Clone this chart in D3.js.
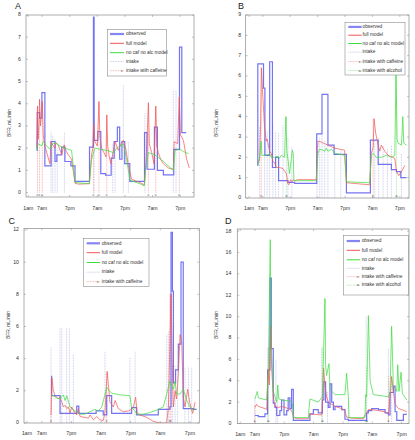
<!DOCTYPE html>
<html><head><meta charset="utf-8">
<script src="https://cdn.jsdelivr.net/npm/d3@7/dist/d3.min.js"></script>
<style>
body{margin:0;background:#fff;}
svg{display:block;font-family:"Liberation Sans",Arial,sans-serif;}
</style></head><body>
<svg id="c" width="415" height="440"></svg>
<script>
// ---------- shared ----------
const tickHours  = [1, 7, 19, 31, 43, 55, 67];
const tickLabels = ["1am", "7am", "7pm", "7am", "7pm", "7am", "7pm"];
const legendNames = ["observed", "full model", "no caf no alc model", "intake", "intake with caffeine", "intake with alcohol"];
const yTicksA = [0,1,2,3,4,5,6,7,8];
const yTicksB = [0,1,2,3,4,5,6,7,8,9];
const yTicksC = [0,2,4,6,8,10,12];
const yTicksD = [0,2,4,6,8,10,12,14,16,18];

// ---------- Panel A  ([hour, BFR]) ----------
const obsA = [[4.7,1.9],[4.9,3.6],[5.9,3.35],[6.9,4.5],[8.2,1.2],[10.9,2.3],[12.6,1.4],[13.4,1.7],[15.5,2.05],[16.9,1.4],[19.5,1.2],[21.3,0.5],[27.6,2.05],[29.3,7.9],[29.6,2.35],[31.2,2.75],[32.5,0.85],[34.6,0.78],[37.0,1.55],[38.3,2.3],[39.7,2.95],[40.7,1.5],[41.7,2.3],[42.9,1.3],[45.1,0.5],[51.5,2.7],[52.6,1.05],[55.8,2.95],[57.1,1.0],[59.7,0.8],[64.2,1.95],[66.7,6.55],[67.7,2.7],[69.6,2.7]];
const fullA = [[4.6,2.0],[5.0,3.9],[5.3,2.4],[5.6,3.0],[5.9,4.2],[6.3,3.0],[6.6,3.4],[7.1,4.1],[7.5,2.6],[8.0,2.2],[9.0,1.8],[10.4,1.3],[10.9,2.3],[11.8,2.1],[12.6,2.0],[13.0,2.25],[14.0,2.15],[15.5,1.7],[16.6,2.15],[17.5,1.85],[18.4,1.7],[19.8,1.5],[21.3,0.42],[22.7,0.38],[27.5,0.4],[28.5,1.7],[29.0,2.0],[29.4,3.1],[29.9,2.3],[31.0,2.1],[31.7,4.1],[32.1,2.5],[32.9,2.0],[34.8,1.6],[35.1,3.5],[35.5,2.1],[36.2,1.6],[36.9,1.3],[38.0,1.9],[38.7,2.3],[40.1,1.9],[41.3,2.2],[42.3,2.35],[43.5,1.9],[44.5,1.2],[45.9,0.6],[49.5,0.45],[51.4,0.35],[51.9,1.0],[52.5,2.2],[53.2,4.05],[53.6,2.2],[54.6,1.8],[55.6,1.3],[56.4,3.9],[56.8,2.1],[57.5,1.8],[58.5,1.5],[59.7,1.3],[62.0,1.1],[64.0,1.05],[64.4,2.3],[65.9,2.2],[66.6,4.3],[67.1,2.6],[67.7,2.5],[68.4,2.35],[69.8,1.5],[71.0,1.1]];
const nocafA = [[4.6,1.9],[5.3,2.2],[6.8,2.1],[7.5,2.3],[9.0,2.1],[10.4,1.95],[11.1,2.15],[12.6,2.25],[14.0,2.15],[15.5,2.05],[16.9,2.0],[19.8,1.9],[21.3,0.45],[27.5,0.4],[28.5,1.5],[30.0,2.0],[32.2,1.95],[35.1,1.9],[38.0,1.8],[39.4,2.0],[42.3,2.2],[43.7,1.5],[45.2,0.55],[49.5,0.4],[51.4,0.3],[52.0,1.1],[53.2,1.8],[56.1,1.7],[59.7,1.4],[64.0,1.0],[64.8,1.9],[66.9,1.95],[68.4,1.85],[70.6,1.75]];
const intakeA = [[10.9,2.75],[11.6,2.6],[12.6,2.4],[13.6,2.0],[16.7,2.7],[29.6,4.8],[37.7,2.2],[38.7,2.3],[42.3,4.85],[44.5,2.3],[51.7,3.6],[64.0,4.6],[65.2,4.6]];
const caffA = [[5.0,3.9],[5.9,4.2],[7.1,4.1],[29.3,3.2],[31.7,4.1],[35.1,3.5],[53.2,4.05],[56.4,3.9],[66.6,4.3]];
const alcA = [];

// ---------- Panel B ----------
const obsB = [[4.6,1.6],[4.8,6.6],[7.3,5.4],[7.9,2.1],[10.0,6.7],[11.2,1.5],[12.6,2.0],[13.9,0.85],[18.0,0.77],[20.9,0.72],[30.6,3.15],[32.9,5.1],[35.5,2.6],[38.2,2.15],[43.6,0.25],[54.1,2.85],[57.5,1.65],[63.3,1.4],[65.5,1.3],[67.4,1.0],[69.9,1.0]];
const fullB = [[4.8,1.7],[5.6,1.9],[6.0,3.5],[6.4,6.4],[7.0,5.0],[7.75,3.5],[8.5,2.8],[8.9,2.9],[9.95,2.3],[10.7,2.2],[11.4,1.8],[12.1,1.75],[12.9,1.5],[14.3,1.5],[15.8,1.45],[17.3,1.2],[18.0,0.7],[18.4,0.65],[19.2,0.9],[19.7,0.8],[20.3,0.9],[20.9,0.85],[22.4,0.9],[30.4,0.9],[31.15,2.8],[32.6,2.75],[35.5,2.6],[38.5,2.45],[42.8,2.35],[43.6,0.75],[53.8,0.65],[54.5,2.2],[55.3,2.5],[55.7,3.9],[56.4,3.2],[57.5,2.6],[58.2,2.3],[58.9,2.6],[60.4,2.3],[61.85,2.1],[64.0,2.0],[64.8,1.95],[65.5,1.3],[66.5,1.1],[67.7,1.3],[69.2,1.6]];
const nocafB = [[4.8,1.6],[5.6,2.0],[6.3,2.8],[6.6,2.1],[7.75,2.1],[9.95,2.15],[10.7,2.0],[12.1,2.0],[13.6,2.05],[14.3,1.95],[15.1,2.1],[15.8,2.05],[16.5,2.0],[17.1,4.0],[17.5,2.3],[18.0,1.9],[18.7,1.2],[19.45,1.9],[19.9,2.35],[20.3,2.2],[20.6,0.85],[22.4,0.85],[30.4,0.85],[31.15,2.2],[31.9,2.4],[33.3,2.35],[34.1,2.3],[34.8,2.45],[35.5,2.3],[37.0,2.4],[38.5,2.2],[42.8,2.1],[43.6,0.8],[53.8,0.75],[54.5,2.1],[55.3,2.2],[56.7,2.0],[58.9,2.0],[61.1,2.1],[63.3,2.0],[64.8,2.1],[65.3,6.2],[65.8,2.9],[66.2,2.7],[67.7,2.6],[68.3,4.0],[68.7,2.7],[69.9,2.6]];
const intakeB = [[5.6,3.5],[7.75,3.0],[8.9,3.3],[9.95,3.5],[11.4,3.6],[12.6,3.3],[13.9,3.2],[15.8,3.6],[18.0,3.0],[19.7,2.5],[30.7,2.9],[31.9,3.0],[32.9,3.1],[34.1,2.8],[35.5,2.6],[38.5,2.5],[41.1,2.4],[56.0,2.8],[57.75,3.0],[59.65,2.6],[61.55,2.4],[63.3,2.6],[67.7,2.2]];
const caffB = [[6.3,6.4],[55.3,3.9]];
const alcB = [[17.3,4.0],[65.5,6.2]];

// ---------- Panel C ----------
const obsC = [[10.75,2.9],[11.0,1.7],[14.4,0.6],[21.15,1.05],[22.0,0.6],[29.0,0.75],[31.9,0.5],[33.3,1.7],[35.3,0.6],[43.4,0.95],[45.4,0.5],[54.2,0.85],[58.9,1.0],[59.35,11.85],[59.9,8.2],[60.3,2.5],[61.2,3.3],[62.3,4.9],[63.4,10.0],[64.3,0.9],[68.4,0.85],[69.7,0.85]];
const fullC = [[10.76,0.5],[11.1,2.8],[11.7,2.0],[12.4,1.7],[13.7,1.5],[14.4,1.6],[15.1,1.3],[15.75,1.0],[16.4,1.1],[17.1,0.9],[17.8,1.0],[18.45,0.6],[19.1,1.0],[19.8,0.8],[21.15,0.5],[21.8,0.9],[22.5,0.4],[24.5,0.35],[25.9,0.3],[26.55,0.5],[27.9,0.2],[29.25,0.4],[30.6,0.2],[31.9,0.15],[32.6,0.7],[33.5,3.2],[34.6,1.3],[36.0,1.0],[36.7,1.4],[38.0,0.9],[40.0,0.7],[42.1,0.75],[43.4,0.85],[44.1,1.0],[45.0,1.6],[45.7,0.6],[46.8,0.5],[49.5,0.35],[52.2,0.1],[54.9,0.0],[57.6,0.0],[58.3,1.0],[59.35,8.0],[60.0,2.5],[60.3,1.0],[61.0,2.0],[61.6,1.5],[62.3,3.0],[63.0,5.5],[63.7,5.0],[64.3,1.6],[65.0,1.0],[66.1,2.1],[67.0,1.2],[68.1,0.6],[69.1,1.3]];
const nocafC = [[10.76,1.7],[11.7,1.7],[13.05,1.55],[14.4,1.5],[15.75,1.75],[16.4,1.4],[17.1,1.7],[18.45,1.0],[19.8,0.8],[21.15,0.7],[22.5,0.55],[24.5,0.55],[26.55,0.7],[28.6,0.85],[29.9,0.75],[31.3,1.0],[33.3,2.2],[35.3,1.85],[38.7,1.75],[42.7,1.7],[43.4,0.95],[44.8,0.75],[45.4,0.55],[48.1,0.55],[50.8,0.65],[53.5,0.8],[56.2,1.0],[57.6,1.8],[58.9,2.6],[59.6,2.3],[60.3,2.1],[61.0,2.6],[61.6,1.8],[63.0,1.8],[64.3,2.1],[65.7,1.4],[67.0,1.0],[68.4,0.8],[69.1,0.9]];
const intakeC = [[10.76,4.7],[14.4,5.9],[15.1,5.9],[17.1,5.9],[18.2,5.9],[19.8,4.3],[32.6,4.45],[42.7,4.1],[44.8,4.45],[57.6,5.5],[58.3,5.7],[60.0,3.6],[61.0,3.6],[62.0,3.6],[65.0,3.5],[66.4,3.5],[67.7,3.5]];
const caffC = [[10.76,2.9],[33.3,3.2],[58.9,8.0],[59.35,8.0]];
const alcC = [];

// ---------- Panel D ----------
const obsD = [[7.0,0.75],[8.4,0.65],[11.1,0.9],[12.2,5.0],[13.15,13.6],[13.7,7.0],[14.5,1.9],[15.2,1.5],[15.9,0.75],[17.2,1.2],[17.9,2.2],[18.9,0.8],[20.0,1.2],[20.6,2.4],[21.3,1.4],[22.0,3.2],[22.7,0.3],[29.5,0.9],[30.9,1.3],[32.9,1.0],[34.6,2.2],[35.2,3.9],[35.9,2.0],[37.0,1.5],[37.7,3.7],[38.4,2.0],[39.1,1.3],[39.75,1.6],[42.5,1.3],[43.8,0.4],[45.2,0.3],[52.7,1.0],[53.4,1.2],[54.75,1.4],[57.5,1.3],[60.2,1.0],[61.6,0.8],[62.25,2.9],[63.6,3.5],[64.3,1.1],[65.0,0.3],[67.7,0.85],[69.1,0.85]];
const fullD = [[7.0,1.5],[7.7,1.8],[8.4,1.6],[11.1,1.4],[11.8,1.3],[12.5,5.1],[12.9,3.6],[13.4,9.1],[13.8,5.5],[14.5,2.5],[15.2,1.6],[16.6,1.5],[17.9,1.6],[19.3,1.5],[20.6,1.4],[22.0,1.2],[22.7,0.7],[23.4,0.5],[24.7,0.45],[28.8,0.45],[29.5,0.9],[31.6,0.85],[34.3,0.8],[34.6,2.0],[35.1,5.2],[35.65,3.5],[36.3,2.5],[37.0,2.0],[38.4,1.8],[39.75,1.6],[42.5,1.4],[43.8,1.2],[44.5,0.6],[46.6,0.5],[51.3,0.45],[52.0,0.8],[52.7,1.0],[53.4,1.3],[54.75,1.3],[57.5,1.2],[60.2,1.1],[61.6,0.9],[62.25,2.5],[62.9,4.4],[63.6,3.0],[64.3,1.8],[65.7,1.4],[67.0,1.3],[69.1,1.1]];
const nocafD = [[7.0,2.3],[7.97,3.0],[8.4,2.4],[11.8,2.2],[12.5,5.0],[13.28,17.2],[13.56,8.0],[14.5,3.0],[15.9,2.0],[16.3,3.6],[16.8,2.3],[17.9,2.2],[21.3,2.1],[22.3,1.9],[22.7,0.55],[28.8,0.55],[29.5,2.3],[32.9,2.0],[34.6,2.5],[35.65,11.7],[35.9,5.5],[36.3,4.5],[37.3,5.6],[37.7,3.2],[39.75,2.7],[43.8,2.7],[44.5,4.7],[45.2,2.5],[45.5,0.55],[52.0,0.55],[52.3,2.7],[52.7,2.5],[53.4,10.1],[54.1,4.0],[55.4,2.7],[61.6,2.5],[62.25,3.0],[62.9,9.1],[63.6,3.5],[65.0,3.0],[65.4,5.5],[65.9,3.0],[66.75,4.8],[67.3,2.8],[69.1,2.2]];
const intakeD = [[7.0,2.4],[12.2,7.1],[15.6,6.0],[16.3,3.6],[34.3,7.1],[36.7,3.0],[45.2,2.0],[52.5,10.0],[61.6,7.0],[62.9,4.0]];
const caffD = [[7.0,1.8],[61.6,4.4]];
const alcD = [[12.5,7.1],[34.6,7.1],[52.7,5.4]];

// ---------- layout ----------
const panels = [
  {letter:"A", lp:[15,9], xd:[0,73], xr:[26,194], yd:[-0.2,8], yr:[197,15], yt:yTicksA, ylab:[10,123], xlabY:210, ygap:5,
   obs:obsA, full:fullA, nocaf:nocafA, intake:intakeA, caff:caffA, alc:alcA,
   leg:{x:107.7,y:29.3,w:59,h:46.7,rows:[34,43.3,52.7,61.5,70.7],lx:110,lx2:124,tx:126}},
  {letter:"B", lp:[238,9], xd:[-0.5,71], xr:[245.7,409], yd:[0,9], yr:[198,15], yt:yTicksB, ylab:[216.7,123], xlabY:210, ygap:4.5,
   obs:obsB, full:fullB, nocaf:nocafB, intake:intakeB, caff:caffB, alc:alcB,
   leg:{x:345,y:22.7,w:60,h:52.3,rows:[26.9,35.2,43.5,52.2,61.5,70.5],lx:348.3,lx2:361.7,tx:362.5}},
  {letter:"C", lp:[8.5,224], xd:[-0.2,70.8], xr:[24,199.3], yd:[0,12.1], yr:[423,228.4], yt:yTicksC, ylab:[9,325], xlabY:435, ygap:5,
   obs:obsC, full:fullC, nocaf:nocafC, intake:intakeC, caff:caffC, alc:alcC,
   leg:{x:83.3,y:238.3,w:65.7,h:48.4,rows:[243.3,252.7,262.5,272.2,281.6],lx:86.7,lx2:100,tx:101.7}},
  {letter:"D", lp:[225,224], xd:[-0.2,70], xr:[237.3,409], yd:[0,18.2], yr:[423.5,229], yt:yTicksD, ylab:[216.7,325], xlabY:436, ygap:6,
   obs:obsD, full:fullD, nocaf:nocafD, intake:intakeD, caff:caffD, alc:alcD,
   leg:{x:343.3,y:235.7,w:65,h:59.3,rows:[241,250.3,259.8,268.3,276.7,285.2],lx:346.7,lx2:360,tx:361.7}}
];

const C_OBS = "#5c5cf0", C_FULL = "#f25656", C_NOCAF = "#3ddc3d";
const C_INT = "#9da2dc", C_CAF = "#f08a8a", C_ALC = "#7fdc7f";
const AX = "#8a8a8a", TXT = "#333";
const svg = d3.select("#c");

panels.forEach((p, pi) => {
  const x = d3.scaleLinear().domain(p.xd).range(p.xr);
  const y = d3.scaleLinear().domain(p.yd).range(p.yr);
  const g = svg.append("g");
  const [x0, x1] = p.xr, [yb, yt] = p.yr;
  const cid = "clip" + pi;
  g.append("clipPath").attr("id", cid).append("rect")
    .attr("x", x0).attr("y", yt).attr("width", x1 - x0).attr("height", yb - yt);

  // panel letter
  g.append("text").attr("x", p.lp[0]).attr("y", p.lp[1]).attr("font-size", 9).attr("fill", "#222").text(p.letter);

  // y axis label
  g.append("text").attr("transform", `translate(${p.ylab[0]},${p.ylab[1]}) rotate(-90)`)
    .attr("text-anchor", "middle").attr("dominant-baseline", "middle")
    .attr("font-size", 4.8).attr("fill", TXT).text("BFR, mL/min");

  // y ticks
  p.yt.forEach(v => {
    const yy = y(v);
    g.append("line").attr("x1", x0).attr("x2", x0 + 2).attr("y1", yy).attr("y2", yy).attr("stroke", AX).attr("stroke-width", 0.5);
    g.append("line").attr("x1", x1).attr("x2", x1 - 2).attr("y1", yy).attr("y2", yy).attr("stroke", AX).attr("stroke-width", 0.5);
    g.append("text").attr("x", x0 - p.ygap).attr("y", yy).attr("text-anchor", "end").attr("dominant-baseline", "middle")
      .attr("font-size", 5.2).attr("fill", TXT).text(v);
  });
  // x ticks
  tickHours.forEach((h, i) => {
    const xx = x(h);
    g.append("line").attr("x1", xx).attr("x2", xx).attr("y1", yb).attr("y2", yb - 2).attr("stroke", AX).attr("stroke-width", 0.5);
    g.append("line").attr("x1", xx).attr("x2", xx).attr("y1", yt).attr("y2", yt + 2).attr("stroke", AX).attr("stroke-width", 0.5);
    g.append("text").attr("x", xx).attr("y", p.xlabY).attr("text-anchor", "middle")
      .attr("font-size", 5.2).attr("fill", TXT).text(tickLabels[i]);
  });

  const plot = g.append("g").attr("clip-path", `url(#${cid})`);
  const vline = (arr, col, w) => arr.forEach(d => {
    plot.append("line").attr("x1", x(d[0])).attr("x2", x(d[0])).attr("y1", y(0)).attr("y2", y(d[1]))
      .attr("stroke", col).attr("stroke-width", w).attr("stroke-dasharray", "0.8,0.8");
  });
  vline(p.intake, C_INT, 0.6);
  vline(p.caff, C_CAF, 0.7);
  vline(p.alc, C_ALC, 0.7);

  const lin = d3.line().x(d => x(d[0])).y(d => y(d[1]));
  const step = d3.line().x(d => x(d[0])).y(d => y(d[1])).curve(d3.curveStepAfter);
  plot.append("path").attr("d", step(p.obs)).attr("fill", "none").attr("stroke", C_OBS).attr("stroke-width", 1.2).attr("stroke-opacity", 0.85);
  plot.append("path").attr("d", lin(p.full)).attr("fill", "none").attr("stroke", C_FULL).attr("stroke-width", 0.8).attr("stroke-opacity", 0.9);
  plot.append("path").attr("d", lin(p.nocaf)).attr("fill", "none").attr("stroke", C_NOCAF).attr("stroke-width", 0.8).attr("stroke-opacity", 0.9);

  // markers at the bottom
  const mark = (arr, ch, col) => arr.forEach(d => {
    g.append("text").attr("x", x(d[0])).attr("y", yb - 2.2).attr("text-anchor", "middle").attr("dominant-baseline", "middle")
      .attr("font-size", 4.2).attr("fill", col).text(ch);
  });
  mark(p.caff, "c", "#555");
  mark(p.alc, "a", "#555");

  // frame
  g.append("rect").attr("x", x0).attr("y", yt).attr("width", x1 - x0).attr("height", yb - yt)
    .attr("fill", "none").attr("stroke", AX).attr("stroke-width", 0.7);

  // legend
  const L = p.leg;
  const lg = g.append("g");
  lg.append("rect").attr("x", L.x).attr("y", L.y).attr("width", L.w).attr("height", L.h)
    .attr("fill", "#fff").attr("stroke", "#777").attr("stroke-width", 0.5);
  const styles = [
    {c: C_OBS, w: 2.2, d: null, o: 0.75},
    {c: C_FULL, w: 1, d: null, o: 1},
    {c: C_NOCAF, w: 1, d: null, o: 1},
    {c: C_INT, w: 0.6, d: "0.8,0.8", o: 1},
    {c: C_CAF, w: 0.7, d: "0.8,0.8", o: 1, m: "c"},
    {c: C_ALC, w: 0.7, d: "0.8,0.8", o: 1, m: "a"}
  ];
  L.rows.forEach((ry, i) => {
    const s = styles[i];
    const ln = lg.append("line").attr("x1", L.lx).attr("x2", L.lx2).attr("y1", ry).attr("y2", ry)
      .attr("stroke", s.c).attr("stroke-width", s.w).attr("stroke-opacity", s.o);
    if (s.d) ln.attr("stroke-dasharray", s.d);
    if (s.m) lg.append("text").attr("x", L.lx2 - 2).attr("y", ry).attr("text-anchor", "middle").attr("dominant-baseline", "middle")
      .attr("font-size", 4.2).attr("fill", "#444").text(s.m);
    lg.append("text").attr("x", L.tx).attr("y", ry).attr("dominant-baseline", "middle")
      .attr("font-size", 4.8).attr("fill", TXT).text(legendNames[i]);
  });
});
</script>
</body></html>
